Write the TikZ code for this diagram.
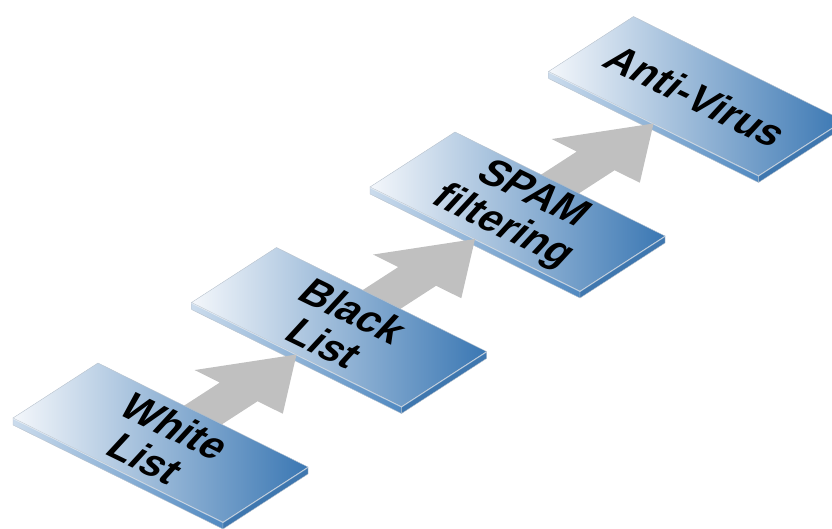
\documentclass[tikz,border=0pt]{standalone}
\usepackage{fontspec}
\setmainfont{Liberation Sans}
\usepackage{xcolor}
\usetikzlibrary{calc}
\definecolor{slablight}{HTML}{F4F7FB}
\definecolor{slabdark}{HTML}{3A77B3}
\definecolor{slabedge}{HTML}{5089C1}
\definecolor{slabside}{HTML}{3F77AF}
\definecolor{arrowgray}{HTML}{C0C0C0}
\definecolor{rim}{HTML}{B8C2CD}

\tikzset{
  top face/.style={left color=slablight, right color=slabdark, draw=rim, line width=0.4pt},
  front face/.style={left color=slablight!75!slabedge, right color=slabedge, draw=rim, line width=0.4pt},
  side face/.style={fill=slabside, draw=rim, line width=0.4pt},
  flow arrow/.style={fill=arrowgray},
  slab label/.style={font=\fontsize{40}{42}\selectfont\bfseries, align=center,
                     rotate=-26, xslant=0.3, inner sep=0pt},
}

\begin{document}
\begin{tikzpicture}[x={(210pt,-104pt)}, y={(85pt,55pt)}]
  \useasboundingbox (0pt,0pt) rectangle (832pt,528pt);
  \begin{scope}[shift={(13pt,110pt)}]
    % slabs from the back to the front, each arrow laid over the slab it points to
    \foreach \k/\txt in {4/{Anti-Virus}, 3/{SPAM\\filtering}, 2/{Black\\List}, 1/{White\\List}}{
      \begin{scope}[shift={(0,2.1*\k-2.1)}]
        \coordinate (slab\k) at (0,0);
        \path[front face] (0,0) -- (1,0) -- ([yshift=-7pt]1,0) -- ([yshift=-7pt]0,0) -- cycle;
        \path[side face] (1,0) -- (1,1) -- ([yshift=-7pt]1,1) -- ([yshift=-7pt]1,0) -- cycle;
        \path[top face] (0,0) -- (1,0) -- (1,1) -- (0,1) -- cycle;
        \draw[white, opacity=0.5, line width=0.8pt] ([yshift=-0.6pt]0,0) -- ([yshift=-0.6pt]1,0) -- ([yshift=-0.6pt]1,1);
        \node[slab label] (label\k) at (0.5,0.5) {\txt};
        \ifnum\k>1
          \coordinate (tip\k) at (0.5,0);
          \fill[flow arrow] (0.41,-1.6) -- (0.41,-0.68) -- (0.29,-0.68) -- (tip\k)
            -- (0.71,-0.68) -- (0.59,-0.68) -- (0.59,-1.6) -- cycle;
        \fi
      \end{scope}
    }
  \end{scope}
\end{tikzpicture}
\end{document}
